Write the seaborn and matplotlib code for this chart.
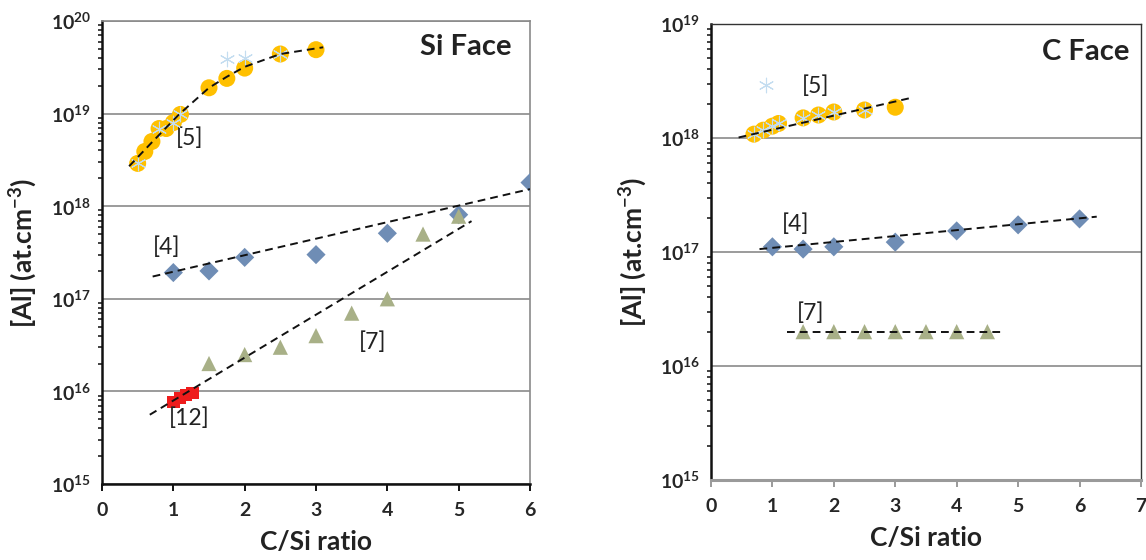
import numpy as np
import seaborn as sns
import matplotlib.pyplot as plt
from matplotlib.ticker import LogLocator, NullFormatter, FixedLocator

# ---- Si face data ----
si_x_ref5 = [0.5, 0.6, 0.7, 0.8, 0.9, 1.0, 1.1, 1.5, 1.75, 2.0, 2.5, 3.0]
si_al_ref5 = [2.9e18, 3.9e18, 5.0e18, 6.9e18, 6.9e18, 8.0e18, 9.8e18, 1.9e19, 2.4e19, 3.1e19, 4.4e19, 4.9e19]
si_x_star = [0.5, 0.8, 1.0, 1.1, 1.75, 2.0, 2.5]
si_al_star = [2.9e18, 6.9e18, 8.0e18, 9.8e18, 3.9e19, 4.0e19, 4.4e19]
si_x_ref4 = [1.0, 1.5, 2.0, 3.0, 4.0, 5.0, 6.0]
si_al_ref4 = [1.92e17, 2.0e17, 2.8e17, 3.0e17, 5.1e17, 8.1e17, 1.8e18]
si_x_ref7 = [1.5, 2.0, 2.5, 3.0, 3.5, 4.0, 4.5, 5.0]
si_al_ref7 = [2.0e16, 2.5e16, 3.0e16, 4.0e16, 7.0e16, 1.0e17, 5.0e17, 7.8e17]
si_x_ref12 = [1.0, 1.09, 1.18, 1.27]
si_al_ref12 = [7.7e15, 8.5e15, 9.1e15, 9.6e15]

# trend lines
si_fit5_x = [0.38, 0.7, 1.08, 1.5, 1.75, 2.0, 2.5, 3.1]
si_fit5_y = [2.7e18, 4.9e18, 9.8e18, 1.9e19, 2.5e19, 3.2e19, 4.4e19, 5.2e19]
si_fit4_x = [0.71, 6.0]
si_fit4_y = [1.74e17, 1.53e18]
si_fit7_x = [0.67, 5.18]
si_fit7_y = [5.6e15, 6.9e17]

# ---- C face data ----
c_x_ref5 = [0.7, 0.85, 1.0, 1.1, 1.5, 1.75, 2.0, 2.5, 3.0]
c_al_ref5 = [1.08e18, 1.17e18, 1.27e18, 1.34e18, 1.5e18, 1.59e18, 1.69e18, 1.76e18, 1.86e18]
c_x_star = [0.9, 0.7, 0.85, 1.0, 1.1, 1.5, 1.75, 2.0, 2.5]
c_al_star = [2.9e18, 1.08e18, 1.17e18, 1.27e18, 1.34e18, 1.5e18, 1.59e18, 1.69e18, 1.76e18]
c_x_ref4 = [1.0, 1.5, 2.0, 3.0, 4.0, 5.0, 6.0]
c_al_ref4 = [1.11e17, 1.06e17, 1.11e17, 1.22e17, 1.53e17, 1.73e17, 1.95e17]
c_x_ref7 = [1.5, 2.0, 2.5, 3.0, 3.5, 4.0, 4.5]
c_al_ref7 = [2.0e16] * 7

c_fit5_x = [0.45, 3.23]
c_fit5_y = [1.01e18, 2.23e18]
c_fit4_x = [0.79, 6.28]
c_fit4_y = [1.06e17, 2.04e17]
c_fit7_x = [1.24, 4.79]
c_fit7_y = [2.0e16, 2.0e16]

GOLD = "#FFC000"
BLUE = "#6F8DB5"
OLIVE = "#A8B087"
RED = "#EE1C1C"
STAR = "#C4DDF0"
DASH = (0, (4, 2.6))

sns.set_theme(style="white")
plt.rcParams["font.family"] = ["Lato", "DejaVu Sans"]
plt.rcParams["mathtext.fontset"] = "custom"
plt.rcParams["mathtext.bf"] = "Lato:bold"
plt.rcParams["mathtext.rm"] = "Lato:bold"

fig = plt.figure(figsize=(11.46, 5.6), dpi=100)
ax1 = fig.add_axes([0.089, 0.1357, 0.3735, 0.8268])
ax2 = fig.add_axes([0.6204, 0.1429, 0.3752, 0.8143])


def scat(ax, x, y, marker, color, s, z=3, lw=0):
    sns.scatterplot(x=x, y=y, ax=ax, marker=marker, color=color, s=s,
                    edgecolor=color if lw else "none", linewidth=lw, zorder=z)


def fit(ax, x, y):
    sns.lineplot(x=x, y=y, ax=ax, color="#111111", linewidth=1.4,
                 linestyle=DASH, zorder=5)


def log_label(v, pos):
    return r"$\mathbf{10^{%d}}$" % int(round(np.log10(v)))


# Si face
scat(ax1, si_x_ref5, si_al_ref5, "o", GOLD, 150)
scat(ax1, si_x_star, si_al_star, (6, 2, 0), STAR, 110, z=4, lw=0.8)
scat(ax1, si_x_ref4, si_al_ref4, "D", BLUE, 95)
scat(ax1, si_x_ref7, si_al_ref7, "^", OLIVE, 120)
scat(ax1, si_x_ref12, si_al_ref12, "s", RED, 80)
fit(ax1, si_fit5_x, si_fit5_y)
fit(ax1, si_fit4_x, si_fit4_y)
fit(ax1, si_fit7_x, si_fit7_y)

# C face
scat(ax2, c_x_ref5, c_al_ref5, "o", GOLD, 150)
scat(ax2, c_x_star, c_al_star, (6, 2, 0), STAR, 110, z=4, lw=0.8)
scat(ax2, c_x_ref4, c_al_ref4, "D", BLUE, 95)
scat(ax2, c_x_ref7, c_al_ref7, "^", OLIVE, 120)
fit(ax2, c_fit5_x, c_fit5_y)
fit(ax2, c_fit4_x, c_fit4_y)
fit(ax2, c_fit7_x, c_fit7_y)

for ax, xmax, ytop in [(ax1, 6, 1e20), (ax2, 7, 1e19)]:
    ax.set_yscale("log")
    ax.set_ylim(1e15, ytop)
    ax.set_xlim(0, xmax)
    ax.xaxis.set_major_locator(FixedLocator(range(xmax + 1)))
    ax.yaxis.set_major_locator(LogLocator(base=10, numticks=10))
    ax.yaxis.set_minor_locator(LogLocator(base=10, subs=np.arange(2, 10), numticks=10))
    ax.yaxis.set_minor_formatter(NullFormatter())
    ax.yaxis.set_major_formatter(plt.FuncFormatter(log_label))
    ax.grid(axis="y", which="major", color="#8A8A8A", linewidth=1.2)
    ax.set_axisbelow(True)
    ax.tick_params(axis="y", which="major", direction="out", length=5, width=1.4,
                   color="#222222", labelsize=14, pad=3)
    ax.tick_params(axis="y", which="minor", direction="out", length=3, width=1.2,
                   color="#222222", left=True)
    ax.tick_params(axis="x", which="major", direction="out", length=5, width=1.4,
                   labelsize=14, pad=8, bottom=True)
    for lab in ax.get_xticklabels():
        lab.set_fontweight("bold")
    ax.set_xlabel("C/Si ratio", fontsize=19, fontweight="bold", labelpad=8,
                  color="#222222")
    ax.set_ylabel(r"[Al] (at.cm$^{\mathregular{-3}}$)", fontsize=19,
                  fontweight="bold", labelpad=8, color="#222222")
    ax.spines["left"].set_color("#111111")
    ax.spines["left"].set_linewidth(1.8)

ax1.spines["bottom"].set_color("#111111")
ax1.spines["bottom"].set_linewidth(1.8)
ax1.tick_params(axis="x", color="#111111")
for side in ["top", "right"]:
    ax1.spines[side].set_color("#8A8A8A")
    ax1.spines[side].set_linewidth(1.2)

ax2.spines["bottom"].set_color("#9A9A9A")
ax2.spines["bottom"].set_linewidth(2.2)
ax2.tick_params(axis="x", color="#9A9A9A")
for side in ["top", "right"]:
    ax2.spines[side].set_color("#333333")
    ax2.spines[side].set_linewidth(1.0)

# panel titles and reference tags
ax1.text(0.957, 0.944, "Si Face", transform=ax1.transAxes, ha="right", va="center",
         fontsize=21, fontweight="bold", color="#222222")
ax2.text(0.974, 0.939, "C Face", transform=ax2.transAxes, ha="right", va="center",
         fontsize=21, fontweight="bold", color="#222222")

tag = dict(fontsize=16.5, color="#222222", ha="center", va="center")
ax1.text(1.23, 10 ** 18.73, "[5]", **tag)
ax1.text(0.91, 10 ** 17.56, "[4]", **tag)
ax1.text(3.8, 10 ** 16.53, "[7]", **tag)
ax1.text(1.23, 10 ** 15.71, "[12]", **tag)
ax2.text(1.7, 10 ** 18.456, "[5]", **tag)
ax2.text(1.37, 10 ** 17.24, "[4]", **tag)
ax2.text(1.63, 10 ** 16.46, "[7]", **tag)

fig.savefig("out.png", dpi=100)
